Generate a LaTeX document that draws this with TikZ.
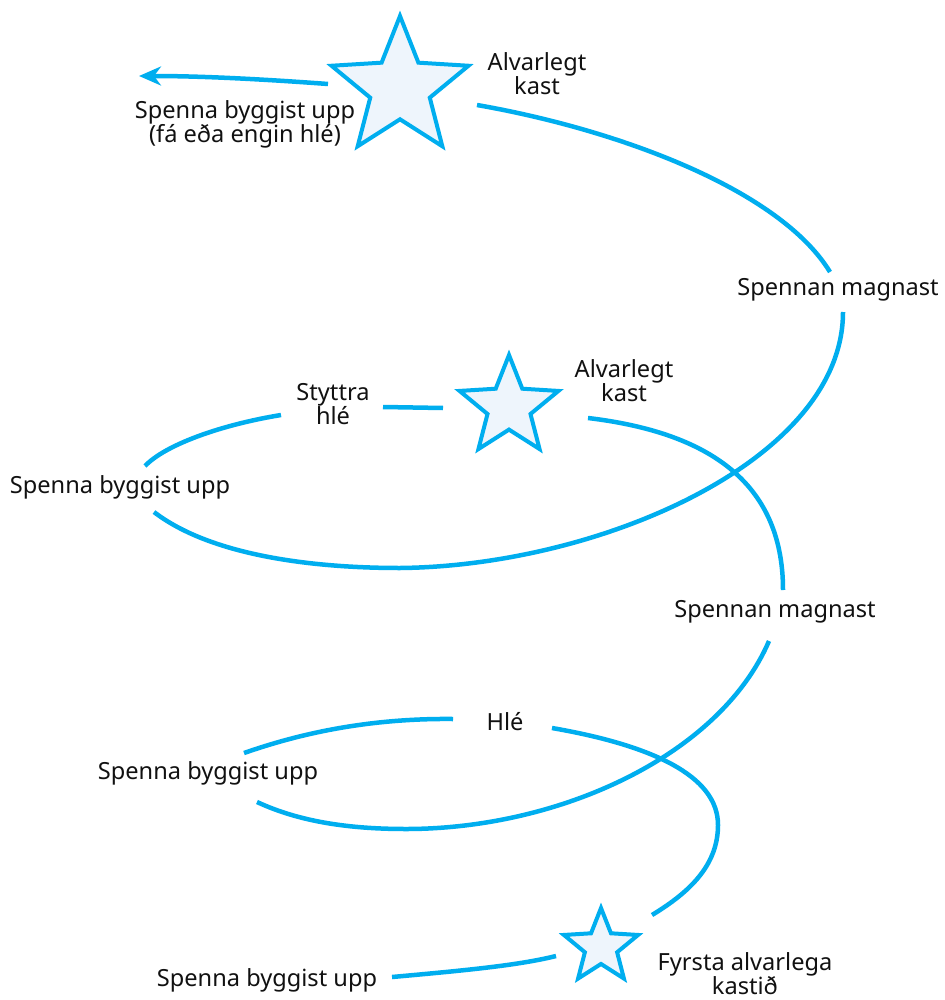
\documentclass[tikz,border=0pt]{standalone}
\usepackage{fontspec}
\setmainfont{Noto Sans}
\usetikzlibrary{shapes.geometric,arrows.meta}
\definecolor{spblue}{HTML}{00AEEF}
\definecolor{starfill}{HTML}{EEF5FC}
\definecolor{txt}{HTML}{111111}
\begin{document}
\begin{tikzpicture}[x=0.5pt,y=-0.5pt,
  spiral/.style={draw=spblue,line width=2.25pt},
  starnode/.style={star,star points=5,star point ratio=2.3,draw=spblue,fill=starfill,line width=2pt,inner sep=0pt},
  lbl/.style={text=txt,align=center,inner sep=0pt,font=\fontsize{11.8}{12}\selectfont}]
\path[use as bounding box,fill=white] (0,0) rectangle (944,1000);

% stars
\node[starnode,minimum size=72pt] (s1) at (400,88) {};
\node[starnode,minimum size=52pt] (s2) at (509,407) {};
\node[starnode,minimum size=39pt] (s3) at (601,947) {};

% labels
\node[lbl] (lA1) at (537,74) {Alvarlegt\\kast};
\node[lbl] (lTop) at (245,124) {Spenna byggist upp\\(fá eða engin hlé)};
\node[lbl] (lM1) at (838,290) {Spennan magnast};
\node[lbl] (lA2) at (624,381) {Alvarlegt\\kast};
\node[lbl] (lS) at (333,404) {Styttra\\hlé};
\node[lbl] (lB2) at (120,487) {Spenna byggist upp};
\node[lbl] (lM2) at (775,612) {Spennan magnast};
\node[lbl] (lH) at (505,722) {Hlé};
\node[lbl] (lB3) at (208,773) {Spenna byggist upp};
\node[lbl] (lB4) at (267,980) {Spenna byggist upp};
\node[lbl] (lF) at (745,974) {Fyrsta alvarlega\\kastið};

% spiral segment end points
\coordinate (a0) at (392,977); \coordinate (a1) at (556,956);
\coordinate (b0) at (652,915); \coordinate (b1) at (718,825); \coordinate (b2) at (552,728);
\coordinate (c0) at (453,719); \coordinate (c1) at (244,753);
\coordinate (d0) at (257,802); \coordinate (d1) at (406,829); \coordinate (d2) at (769,641);
\coordinate (e0) at (783,590); \coordinate (e1) at (588,418);
\coordinate (f0) at (443,408); \coordinate (f1) at (383,407);
\coordinate (g0) at (281,415); \coordinate (g1) at (145,466);
\coordinate (h0) at (154,512); \coordinate (h1) at (400,568); \coordinate (h2) at (843,312);
\coordinate (i0) at (830,272); \coordinate (i1) at (477,105);
\coordinate (j0) at (328,84); \coordinate (j1) at (139,76);

% spiral segments
\draw[spiral] (a0) .. controls (470,970) and (520,965) .. (a1);
\draw[spiral] (b0) .. controls (690,892) and (718,865) .. (b1)
                   .. controls (718,775) and (650,745) .. (b2);
\draw[spiral] (c0) .. controls (360,718) and (290,737) .. (c1);
\draw[spiral] (d0) .. controls (300,822) and (350,829) .. (d1)
                   .. controls (560,829) and (720,755) .. (d2);
\draw[spiral] (e0) .. controls (783,480) and (705,432) .. (e1);
\draw[spiral] (f0) -- (f1);
\draw[spiral] (g0) .. controls (220,425) and (165,445) .. (g1);
\draw[spiral] (h0) .. controls (210,555) and (310,568) .. (h1)
                   .. controls (600,566) and (843,460) .. (h2);
\draw[spiral] (i0) .. controls (780,190) and (620,130) .. (i1);
\draw[spiral,-{Stealth[length=11pt,width=9.5pt,inset=3.5pt]}] (j0) .. controls (260,79) and (200,76) .. (j1);
\end{tikzpicture}
\end{document}
